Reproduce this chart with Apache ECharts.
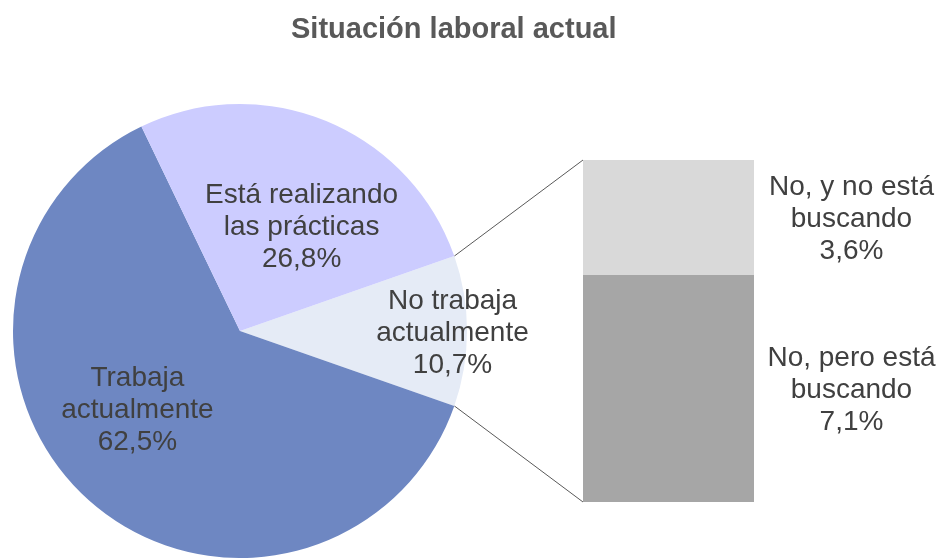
<!DOCTYPE html>
<html>
<head>
<meta charset="utf-8">
<script src="https://cdn.jsdelivr.net/npm/echarts@6/dist/echarts.min.js"></script>
<style>
    html, body { margin: 0; padding: 0; background: #fff; }
    #chart { width: 941px; height: 558px; }
</style>
</head>
<body>
<div id="chart"></div>
<script>
// pie: order is clockwise from the "No trabaja" slice, which is centred on 3 o'clock
var pieNames = ['No trabaja\nactualmente', 'Trabaja\nactualmente', 'Está realizando\nlas prácticas'];
var pieValues = [10.7, 62.5, 26.8];
var pieColors = ['#E5EBF6', '#6E87C2', '#CCCCFF'];

// bar that breaks down "No trabaja actualmente", bottom to top
var barNames = ['No, pero está\nbuscando', 'No, y no está\nbuscando'];
var barValues = [7.1, 3.6];
var barColors = ['#A6A6A6', '#D9D9D9'];

var chart = echarts.init(document.getElementById('chart'));

var pieCenter = [240, 331];
var pieRadius = 227;
var barGrid = { left: 583, top: 160, width: 171, height: 342 };

var total = pieValues.reduce(function (a, b) { return a + b; }, 0);
var halfAngle = pieValues[0] / total * 180;   // half of the exploded slice
var startAngle = halfAngle;

// nudges for the inside labels (index matches pieNames)
var labelShift = [[96, 2], [-25, -8], [17, 4]];

function pct(v) {
    return v.toFixed(1).replace('.', ',') + '%';
}

var labelText = {
    color: '#404040',
    fontSize: 28,
    lineHeight: 32,
    fontFamily: 'Liberation Sans, Arial, sans-serif'
};

var pieData = [];
for (var i = 0; i < pieNames.length; i++) {
    pieData.push({
        name: pieNames[i],
        value: pieValues[i],
        itemStyle: { color: pieColors[i] }
    });
}

var barSeries = [];
for (var j = 0; j < barValues.length; j++) {
    barSeries.push({
        name: barNames[j],
        type: 'bar',
        stack: 'no',
        barWidth: '100%',
        xAxisIndex: 0,
        yAxisIndex: 0,
        data: [barValues[j]],
        itemStyle: { color: barColors[j] },
        label: Object.assign({
            show: true,
            position: ['157%', '50%'],
            offset: [0, 2],
            align: 'center',
            verticalAlign: 'middle',
            formatter: (function (k) {
                return function () { return barNames[k] + '\n' + pct(barValues[k]); };
            })(j)
        }, labelText)
    });
}

// connector lines from the slice edges to the bar corners
var rad = halfAngle * Math.PI / 180;
var edgeX = pieCenter[0] + pieRadius * Math.cos(rad);
var edgeTop = pieCenter[1] - pieRadius * Math.sin(rad);
var edgeBottom = pieCenter[1] + pieRadius * Math.sin(rad);
var lineStyle = { stroke: '#595959', lineWidth: 1 };

chart.setOption({
    animation: false,
    title: {
        text: 'Situación laboral actual',
        left: 286,
        top: 10,
        textStyle: {
            color: '#595959',
            fontSize: 29,
            fontWeight: 'bold',
            fontFamily: 'Liberation Sans, Arial, sans-serif'
        }
    },
    grid: barGrid,
    xAxis: { type: 'category', data: ['No trabaja'], show: false },
    yAxis: { type: 'value', min: 0, max: barValues[0] + barValues[1], show: false },
    graphic: [
        { type: 'line', shape: { x1: edgeX, y1: edgeTop, x2: barGrid.left, y2: barGrid.top }, style: lineStyle },
        { type: 'line', shape: { x1: edgeX, y1: edgeBottom, x2: barGrid.left, y2: barGrid.top + barGrid.height }, style: lineStyle }
    ],
    series: [{
        type: 'pie',
        center: pieCenter,
        radius: pieRadius,
        startAngle: startAngle,
        clockwise: true,
        avoidLabelOverlap: false,
        minAngle: 0,
        itemStyle: { borderWidth: 0 },
        label: Object.assign({
            show: true,
            position: 'inside',
            align: 'center',
            formatter: function (p) { return p.name + '\n' + pct(p.value); }
        }, labelText),
        labelLine: { show: false },
        labelLayout: function (params) {
            var s = labelShift[params.dataIndex];
            return { dx: s[0], dy: s[1] };
        },
        emphasis: { disabled: true },
        data: pieData
    }].concat(barSeries)
});
</script>
</body>
</html>
